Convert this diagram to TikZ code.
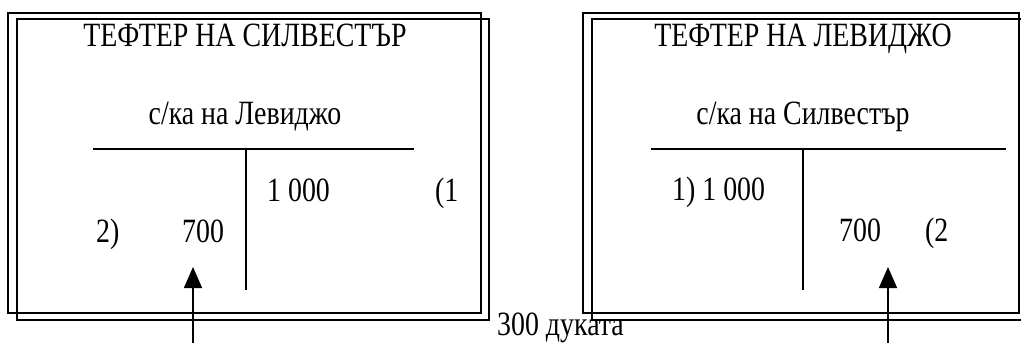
\documentclass[tikz,border=0pt]{standalone}
\usepackage{fontspec}
\setmainfont[FakeStretch=0.82]{Liberation Serif}
\usetikzlibrary{arrows.meta}
\tikzset{
  frame/.style={draw=black, line width=2.2pt},
  tline/.style={draw=black, line width=2.2pt},
  lbl/.style={inner sep=0pt, anchor=base, font=\fontsize{34}{34}\selectfont},
  lblw/.style={lbl, anchor=base west},
  uparrow/.style={draw=black, line width=1.5pt, -{Triangle[width=18pt,length=21pt]}}
}
\begin{document}
\begin{tikzpicture}[x=1pt,y=-1pt]
\useasboundingbox (0,0) rectangle (1021,343);
\clip (0,0) rectangle (1021,343);
% left ledger frames
\draw[frame] (8,13) rectangle (481,313);
\draw[frame] (17,19) rectangle (489,320);
% right ledger frames
\draw[frame] (583,13) rectangle (1019,313);
\draw[frame] (592,19) rectangle (1030,320);
% left texts
\node[lbl] (tl) at (245,46) {ТЕФТЕР НА СИЛВЕСТЪР};
\node[lbl] (sl) at (245,124) {с/ка на Левиджо};
\node[lblw] (l1000) at (267,201) {1 000};
\node[lblw] (l1) at (435,201) {(1};
\node[lblw] (l2) at (96,242) {2)};
\node[lblw] (l700) at (182,242) {700};
% left T account
\coordinate (lha) at (93,149);
\coordinate (lhb) at (414,149);
\coordinate (lva) at (246,149);
\coordinate (lvb) at (246,290);
\draw[tline] (lha) -- (lhb);
\draw[tline] (lva) -- (lvb);
% right texts
\node[lbl] (tr) at (803,46) {ТЕФТЕР НА ЛЕВИДЖО};
\node[lbl] (sr) at (803,124) {с/ка на Силвестър};
\node[lblw] (r1000) at (672,200) {1) 1 000};
\node[lblw] (r700) at (839,241) {700};
\node[lblw] (r2) at (925,241) {(2};
% right T account
\coordinate (rha) at (651,149);
\coordinate (rhb) at (1006,149);
\coordinate (rva) at (803,149);
\coordinate (rvb) at (803,290);
\draw[tline] (rha) -- (rhb);
\draw[tline] (rva) -- (rvb);
% middle label
\node[lblw] (mid) at (497,335) {300 дуката};
% arrows
\coordinate (la0) at (193,350);
\coordinate (la1) at (193,267);
\coordinate (ra0) at (888,350);
\coordinate (ra1) at (888,267);
\draw[uparrow] (la0) -- (la1);
\draw[uparrow] (ra0) -- (ra1);
\end{tikzpicture}
\end{document}
